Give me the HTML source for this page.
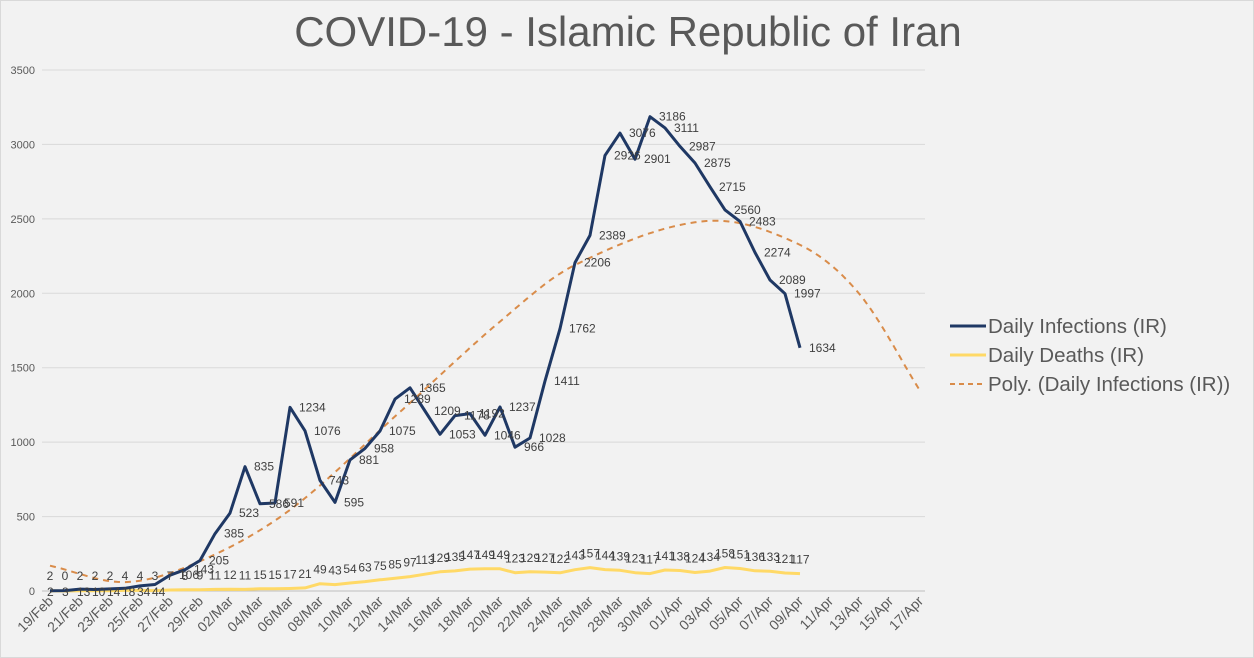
<!DOCTYPE html>
<html><head><meta charset="utf-8"><style>
html,body{margin:0;padding:0;background:#f2f2f2;}
svg{display:block;font-family:"Liberation Sans","DejaVu Sans",sans-serif;}
</style></head><body>
<svg id="s" width="1254" height="658" viewBox="0 0 1254 658">
<rect x="0.5" y="0.5" width="1253" height="657" fill="#f2f2f2" stroke="#d9d9d9"/>
<text x="628" y="46" text-anchor="middle" font-size="42" fill="#595959">COVID-19 - Islamic Republic of Iran</text>
<g id="g"></g>
<g font-size="20.5" fill="#595959">
<line x1="950" y1="326" x2="986" y2="326" stroke="#1f3864" stroke-width="3"/>
<text x="988" y="333">Daily Infections (IR)</text>
<line x1="950" y1="355" x2="986" y2="355" stroke="#ffd966" stroke-width="3"/>
<text x="988" y="362">Daily Deaths (IR)</text>
<line x1="950" y1="384" x2="986" y2="384" stroke="#d98c4a" stroke-width="2" stroke-dasharray="5,4"/>
<text x="988" y="391">Poly. (Daily Infections (IR))</text>
</g>
</svg>
<script>
var g=document.getElementById('g'),h='';
function Y(v){return 591-v*0.14886;}
function X(i){return 50+15*i;}
for(var k=0;k<=7;k++){var y=Y(k*500);
h+='<line x1="42" x2="925" y1="'+y+'" y2="'+y+'" stroke="'+(k?'#d9d9d9':'#bfbfbf')+'" stroke-width="1"/>';
h+='<text x="35" y="'+(y+4)+'" text-anchor="end" font-size="11" fill="#595959">'+(k*500)+'</text>';}
var inf=[2,3,13,10,14,18,34,44,106,143,205,385,523,835,586,591,1234,1076,743,595,881,958,1075,1289,1365,1209,1053,1178,1192,1046,1237,966,1028,1411,1762,2206,2389,2926,3076,2901,3186,3111,2987,2875,2715,2560,2483,2274,2089,1997,1634];
var de=[2,0,2,2,2,4,4,3,7,8,9,11,12,11,15,15,17,21,49,43,54,63,75,85,97,113,129,135,147,149,149,123,129,127,122,143,157,144,139,123,117,141,138,124,134,158,151,136,133,121,117];
var ds=[];var m='Feb',d=19;
for(var i=0;i<59;i++){ds.push((d<10?'0':'')+d+'/'+m);d++;if(m=='Feb'&&d>29){d=1;m='Mar';}else if(m=='Mar'&&d>31){d=1;m='Apr';}}
for(var i=0;i<59;i+=2){var x=X(i)+4;h+='<text transform="translate('+x+',602) rotate(-45)" text-anchor="end" font-size="14" fill="#595959">'+ds[i]+'</text>';}
var tp=[[0,170],[5,60],[10,200],[16,545],[23.3,1200],[30,1810],[35,2190],[43.7,2485],[50,2325],[54,1990],[58,1345]];
function interp(t){for(var j=0;j<tp.length-1;j++){if(t<=tp[j+1][0]){var p0=tp[Math.max(j-1,0)],p1=tp[j],p2=tp[j+1],p3=tp[Math.min(j+2,tp.length-1)];var u=(t-p1[0])/(p2[0]-p1[0]);
var m1=(p2[1]-p0[1])/(p2[0]-p0[0])*(p2[0]-p1[0]),m2=(p3[1]-p1[1])/(p3[0]-p1[0])*(p2[0]-p1[0]);
var u2=u*u,u3=u2*u;return (2*u3-3*u2+1)*p1[1]+(u3-2*u2+u)*m1+(-2*u3+3*u2)*p2[1]+(u3-u2)*m2;}}return tp[tp.length-1][1];}
var pt=[];for(var t=0;t<=58;t+=0.25)pt.push(X(t).toFixed(1)+','+Y(interp(t)).toFixed(1));
h+='<polyline points="'+pt.join(' ')+'" fill="none" stroke="#d98c4a" stroke-width="2" stroke-dasharray="6,5"/>';
h+='<polyline points="'+de.map(function(v,i){return X(i)+','+Y(v).toFixed(1)}).join(' ')+'" fill="none" stroke="#ffd966" stroke-width="3" stroke-linejoin="round"/>';
h+='<polyline points="'+inf.map(function(v,i){return X(i)+','+Y(v).toFixed(1)}).join(' ')+'" fill="none" stroke="#1f3864" stroke-width="3" stroke-linejoin="round"/>';
for(var i=0;i<inf.length;i++){var y=Y(inf[i]);var yy=i<8?596:y+4;var xx=i<8?X(i)-3:X(i)+9;
h+='<text x="'+xx+'" y="'+yy+'" font-size="12" fill="#404040">'+inf[i]+'</text>';}
for(var i=0;i<de.length;i++){var y=Y(de[i])-10;if(i<8)y=580;
h+='<text x="'+X(i)+'" y="'+y+'" text-anchor="middle" font-size="12" fill="#404040">'+de[i]+'</text>';}
g.innerHTML=h;
</script>
</body></html>
